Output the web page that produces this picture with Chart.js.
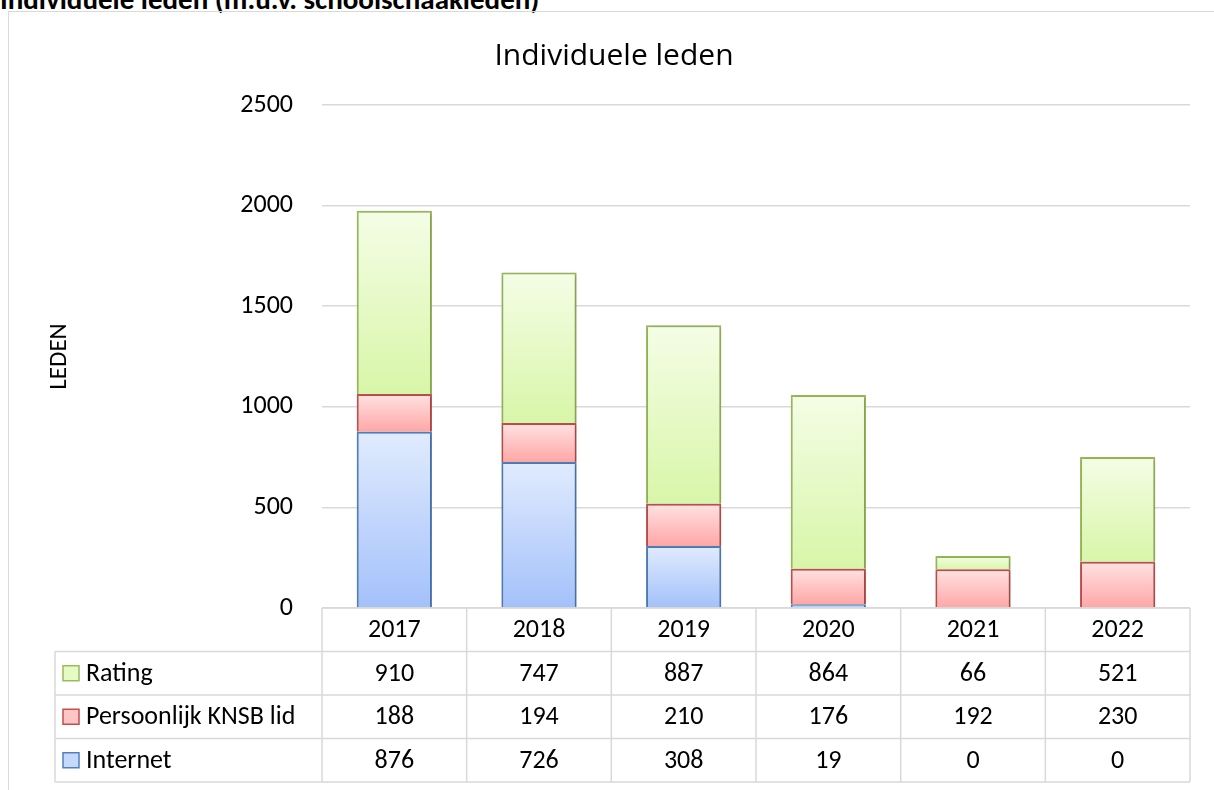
<!DOCTYPE html>
<html>
<head>
<meta charset="utf-8">
<script src="https://cdn.jsdelivr.net/npm/chart.js@4.4.0/dist/chart.umd.min.js"></script>
<style>
    html, body { margin: 0; padding: 0; background: #fff; overflow: hidden; }
    #kop { position: absolute; left: 0; top: -15px; font: bold 29px Carlito, Lato, sans-serif; line-height: 29px; white-space: nowrap; color: #000; }
    #frame { position: absolute; left: 8px; top: 11px; width: 1230px; height: 800px; border: 1.5px solid #d9d9d9; }
    #wrap { position: absolute; left: 0; top: 0; width: 1214px; height: 790px; }
</style>
</head>
<body>
<div id="kop">Individuele leden (m.u.v. schoolschaakleden)</div>
<div id="frame"></div>
<div id="wrap"><canvas id="ledenChart"></canvas></div>
<script>
// Data
const jaren = ['2017', '2018', '2019', '2020', '2021', '2022'];
const internet = [876, 726, 308, 19, 0, 0];
const persoonlijk = [188, 194, 210, 176, 192, 230];
const rating = [910, 747, 887, 864, 66, 521];
const yTicks = [0, 500, 1000, 1500, 2000, 2500];

const FONT = 'Carlito, Lato, sans-serif';

// Gradient per segment (light at top, darker at bottom)
function verloop(kleuren) {
    return function (c) {
        const chart = c.chart;
        if (!chart.chartArea || c.type !== 'data') return kleuren[1];
        const y = chart.scales.y;
        let start = 0;
        for (let d = 0; d < c.datasetIndex; d++) start += chart.data.datasets[d].data[c.dataIndex];
        const v = chart.data.datasets[c.datasetIndex].data[c.dataIndex];
        const y0 = y.getPixelForValue(start + v);
        const y1 = y.getPixelForValue(start);
        if (!(y1 > y0)) return kleuren[1];
        const g = chart.ctx.createLinearGradient(0, y0, 0, y1);
        g.addColorStop(0, kleuren[0]);
        g.addColorStop(1, kleuren[1]);
        return g;
    };
}

function randDikte(c) {
    return c.raw === 0 ? 0 : 2;
}

// Soft shadow behind the bars
const schaduw = {
    id: 'schaduw',
    beforeDatasetsDraw(chart) {
        const ctx = chart.ctx;
        ctx.save();
        ctx.shadowColor = 'rgba(0,0,0,0.22)';
        ctx.shadowBlur = 4;
        ctx.shadowOffsetX = 1;
        ctx.shadowOffsetY = 1;
    },
    afterDatasetsDraw(chart) {
        chart.ctx.restore();
    }
};

// Data table under the chart
const dataTabel = {
    id: 'dataTabel',
    afterDraw(chart) {
        const ctx = chart.ctx;
        const xs = chart.scales.x;
        const top = chart.chartArea.bottom;
        const rowH = 43.5;
        const legLeft = 55;
        const n = jaren.length;
        const edges = [];
        for (let i = 0; i <= n; i++) edges.push(xs.left + (xs.right - xs.left) * i / n);
        const rows = chart.data.datasets.slice().reverse();
        const bottom = top + rowH * (rows.length + 1);

        ctx.save();
        ctx.strokeStyle = '#d9d9d9';
        ctx.lineWidth = 1.5;
        ctx.beginPath();
        ctx.moveTo(xs.left, top); ctx.lineTo(xs.right, top);
        for (let r = 1; r <= rows.length + 1; r++) {
            ctx.moveTo(legLeft, top + rowH * r); ctx.lineTo(xs.right, top + rowH * r);
        }
        ctx.moveTo(legLeft, top + rowH); ctx.lineTo(legLeft, bottom);
        edges.forEach(e => { ctx.moveTo(e, top); ctx.lineTo(e, bottom); });
        ctx.stroke();

        ctx.fillStyle = '#000';
        ctx.font = '26px ' + FONT;
        ctx.textBaseline = 'middle';
        ctx.textAlign = 'center';
        jaren.forEach((j, i) => ctx.fillText(j, (edges[i] + edges[i + 1]) / 2, top + rowH / 2 + 1));

        rows.forEach((ds, r) => {
            const cy = top + rowH * (r + 1.5);
            ctx.fillStyle = ds.markerKleur;
            ctx.fillRect(63, cy - 7.5, 16, 15);
            ctx.strokeStyle = ds.borderColor;
            ctx.lineWidth = 1.5;
            ctx.strokeRect(63, cy - 7.5, 16, 15);
            ctx.fillStyle = '#000';
            ctx.textAlign = 'left';
            ctx.fillText(ds.label, 86, cy + 1);
            ctx.textAlign = 'center';
            ds.data.forEach((v, i) => ctx.fillText(String(v), (edges[i] + edges[i + 1]) / 2, cy + 1));
        });
        ctx.restore();
    }
};

document.addEventListener('DOMContentLoaded', function () {
    const ctx = document.getElementById('ledenChart').getContext('2d');
    new Chart(ctx, {
        type: 'bar',
        data: {
            labels: jaren,
            datasets: [{
                label: 'Internet',
                data: internet,
                backgroundColor: verloop(['#e1ebfe', '#a3c1fa']),
                markerKleur: '#c6d9fb',
                borderColor: '#4f81bd',
                borderWidth: randDikte
            }, {
                label: 'Persoonlijk KNSB lid',
                data: persoonlijk,
                backgroundColor: verloop(['#ffe2e2', '#ffa6a6']),
                markerKleur: '#ffc4c4',
                borderColor: '#c0504d',
                borderWidth: randDikte
            }, {
                label: 'Rating',
                data: rating,
                backgroundColor: verloop(['#f4fde6', '#d8f6a8']),
                markerKleur: '#e6fac6',
                borderColor: '#9bbb59',
                borderWidth: randDikte
            }]
        },
        options: {
            responsive: true,
            maintainAspectRatio: false,
            animation: false,
            categoryPercentage: 1,
            barPercentage: 0.52,
            layout: { padding: { left: 38, right: 24, top: 20, bottom: 174 } },
            plugins: {
                legend: { display: false },
                tooltip: { enabled: false },
                title: {
                    display: true,
                    text: 'Individuele leden',
                    color: '#000',
                    font: { family: '"Open Sans", sans-serif', size: 30, weight: 'normal' },
                    padding: { top: 18, bottom: 31 }
                }
            },
            scales: {
                x: {
                    stacked: true,
                    ticks: { display: false },
                    grid: { display: false },
                    border: { display: false }
                },
                y: {
                    stacked: true,
                    min: yTicks[0],
                    max: yTicks[yTicks.length - 1],
                    afterBuildTicks(s) { s.ticks = yTicks.map(v => ({ value: v })); },
                    afterFit(s) { s.width = 284; },
                    ticks: {
                        color: '#000',
                        font: { family: FONT, size: 26 },
                        padding: 29,
                        callback: v => String(v)
                    },
                    grid: { color: '#d9d9d9', lineWidth: 1.5, drawTicks: false },
                    border: { display: false },
                    title: {
                        display: true,
                        text: 'LEDEN',
                        color: '#000',
                        font: { family: FONT, size: 25 },
                        padding: { top: 7 }
                    }
                }
            }
        },
        plugins: [schaduw, dataTabel]
    });
});
</script>
</body>
</html>
